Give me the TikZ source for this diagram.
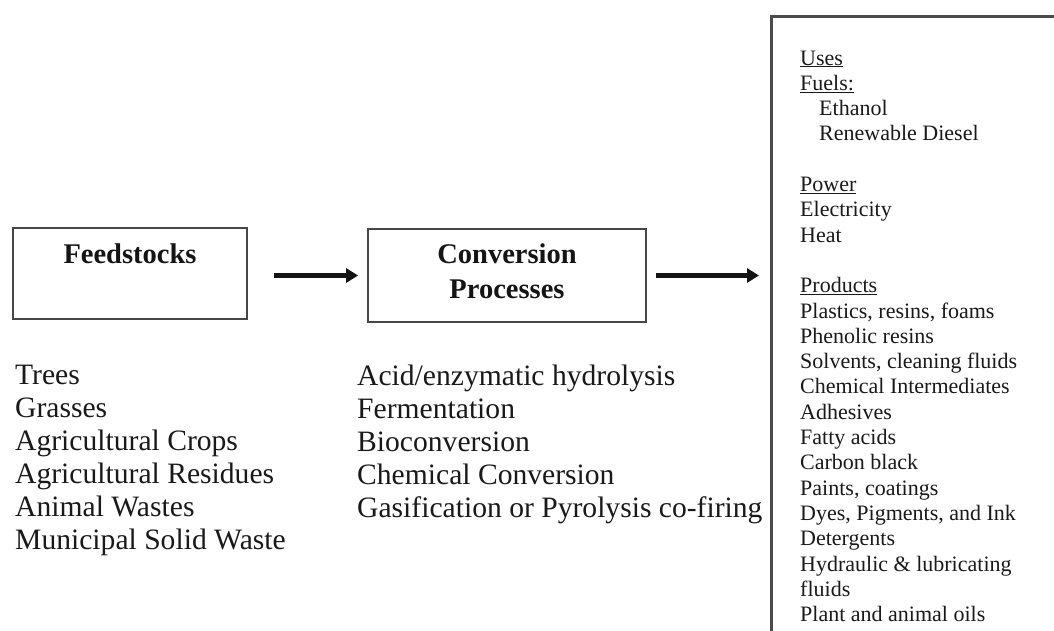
\documentclass[tikz,border=0pt]{standalone}
\usepackage{fontspec}
\setmainfont{Liberation Serif}
\usetikzlibrary{arrows.meta}
\begin{document}
\begin{tikzpicture}[x=1pt,y=-1pt,
  stagebox/.style={draw=black!72, line width=1.8pt, inner sep=0pt},
  title/.style={inner sep=0pt, anchor=base, text=black!92,
    font=\fontsize{28.5}{35}\selectfont\bfseries},
  listtext/.style={inner sep=0pt, anchor=base west, text=black!90,
    font=\fontsize{29.6}{33}\selectfont},
  usetext/.style={inner sep=0pt, anchor=base west, text=black!90,
    font=\fontsize{22}{25}\selectfont},
  flow/.style={line width=4.2pt, black!92, -{Triangle[length=12pt,width=14pt]}}]
\useasboundingbox (0,0) rectangle (1054,630);

% stage boxes
\node[stagebox, minimum width=234pt, minimum height=91pt] (feed) at (130,273.5) {};
\node[title] (feedT) at (130,263) {Feedstocks};
\node[stagebox, minimum width=278pt, minimum height=93pt] (conv) at (507,275.5) {};
\node[title] (convT1) at (507,263) {Conversion};
\node[title] (convT2) at (507,298) {Processes};

% uses panel, running off the right and bottom edges
\begin{scope}
  \clip (0,0) rectangle (1054,630);
  \node[draw=black!70, line width=2.6pt, minimum width=320pt, minimum height=660pt,
        anchor=north west, inner sep=0pt] (uses) at (770,15) {};
\end{scope}

% connectors
\draw[flow, shorten <=26pt, shorten >=9pt] (feed.east |- conv.west) -- (conv.west);
\draw[flow, shorten <=9pt, shorten >=11pt] (conv.east) -- (conv.east -| uses.west);

% feedstock list
\foreach \t [count=\i from 0] in {Trees,Grasses,Agricultural Crops,Agricultural Residues,Animal Wastes,Municipal Solid Waste}
  \node[listtext] (fs\i) at (15,384+33*\i) {\t};

% conversion list
\foreach \t [count=\i from 0] in {Acid/enzymatic hydrolysis,Fermentation,Bioconversion,Chemical Conversion,Gasification or Pyrolysis co-firing}
  \node[listtext] (cp\i) at (357,385+33*\i) {\t};

% uses list
\foreach \n/\dx/\t in {0/0/{\underline{Uses}},1/0/{\underline{Fuels:}},2/19/{Ethanol},3/19/{Renewable Diesel},
    5/0/{\underline{Power}},6/0/{Electricity},7/0/{Heat},
    9/0/{\underline{Products}},10/0/{Plastics, resins, foams},11/0/{Phenolic resins},
    12/0/{Solvents, cleaning fluids},13/0/{Chemical Intermediates},14/0/{Adhesives},
    15/0/{Fatty acids},16/0/{Carbon black},17/0/{Paints, coatings},
    18/0/{Dyes, Pigments, and Ink},19/0/{Detergents},20/0/{Hydraulic \& lubricating},
    21/0/{fluids},22/0/{Plant and animal oils}}
  \node[usetext] (use\n) at (800+\dx,65+25.3*\n) {\t};
\end{tikzpicture}
\end{document}
